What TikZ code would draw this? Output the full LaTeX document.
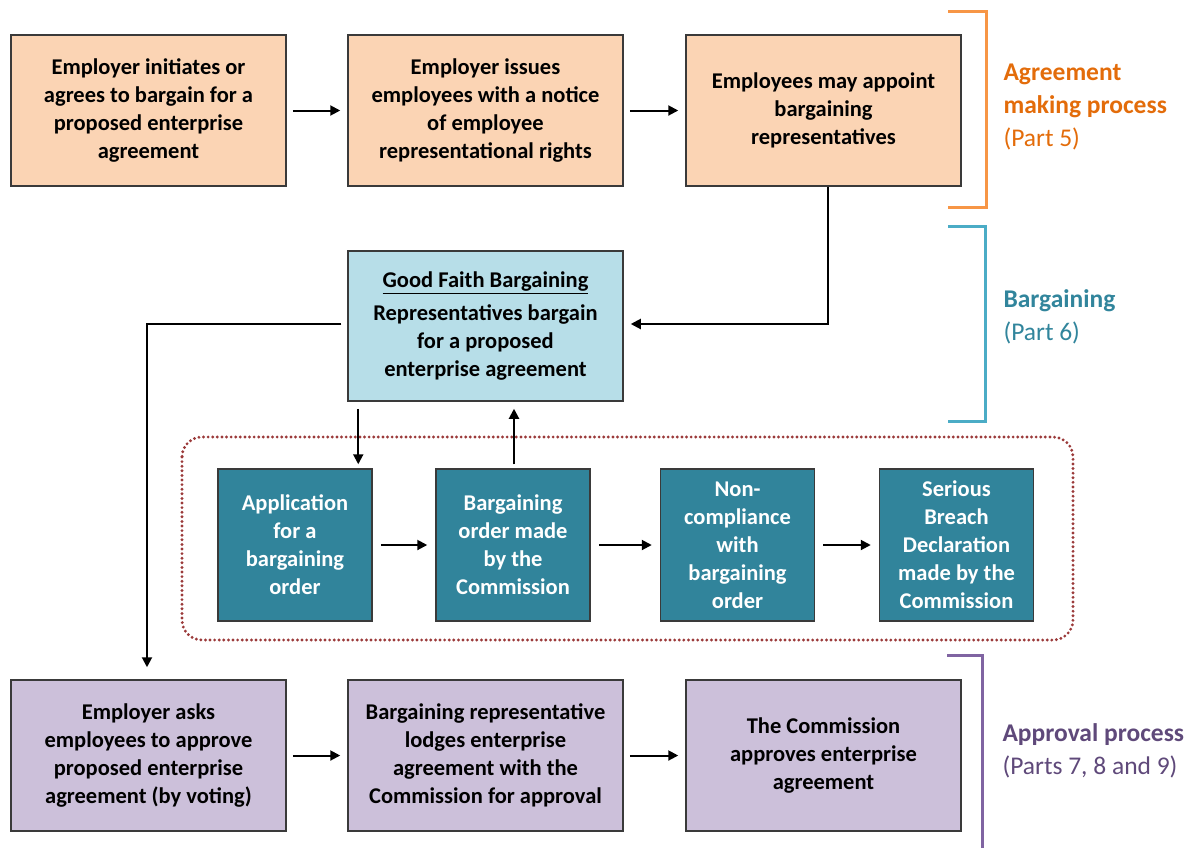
\documentclass[tikz,border=0pt]{standalone}
\usepackage{fontspec}
\setmainfont{Carlito}
\usetikzlibrary{arrows.meta}
\definecolor{peach}{HTML}{FBD4B4}
\definecolor{paleblue}{HTML}{B7DEE8}
\definecolor{teal}{HTML}{31849B}
\definecolor{lilac}{HTML}{CCC0DA}
\definecolor{brorange}{HTML}{F79646}
\definecolor{brblue}{HTML}{4BACC6}
\definecolor{brpurple}{HTML}{8064A2}
\definecolor{txorange}{HTML}{E36C0A}
\definecolor{txblue}{HTML}{31859C}
\definecolor{txpurple}{HTML}{5F497A}
\definecolor{dotred}{HTML}{9B3A3A}
\definecolor{edge}{HTML}{3A3A3A}
\begin{document}
\begin{tikzpicture}[x=1pt,y=-1pt,
  box/.style={draw=edge,line width=1.5,minimum width=275,minimum height=151,
    align=center,inner sep=0pt,font=\bfseries\fontsize{22.5}{28}\selectfont},
  peachbox/.style={box,fill=peach},
  bluebox/.style={box,fill=paleblue,minimum height=150},
  lilacbox/.style={box,fill=lilac},
  tealbox/.style={box,fill=teal,text=white,minimum width=154,minimum height=152},
  flow/.style={line width=2,-{Triangle[length=10,width=10]}},
  bracket/.style={line width=3},
  tag/.style={anchor=west,align=left,font=\fontsize{25.5}{33}\selectfont}]
\useasboundingbox (0,0) rectangle (1199,847);

% agreement making row
\node[peachbox] (a1) at (148.5,110.5) {Employer initiates or\\agrees to bargain for a\\proposed enterprise\\agreement};
\node[peachbox] (a2) at (485.5,110.5) {Employer issues\\employees with a notice\\of employee\\representational rights};
\node[peachbox] (a3) at (823.5,110.5) {Employees may appoint\\bargaining\\representatives};

% good faith bargaining
\node[bluebox] (gf) at (485.5,326) {\underline{Good Faith Bargaining}\\[5pt]Representatives bargain\\for a proposed\\enterprise agreement};

% bargaining order chain
\draw[dotred,line width=3.2,line cap=round,dash pattern=on 0pt off 4.6pt,rounded corners=20]
  (182,437) rectangle (1073,640);
\node[tealbox] (t1) at (295,545) {Application\\for a\\bargaining\\order};
\node[tealbox] (t2) at (513,545) {Bargaining\\order made\\by the\\Commission};
\node[tealbox] (t3) at (737.5,545) {Non-\\compliance\\with\\bargaining\\order};
\node[tealbox] (t4) at (956.5,545) {Serious\\Breach\\Declaration\\made by the\\Commission};

% approval row
\node[lilacbox] (p1) at (148.5,755.5) {Employer asks\\employees to approve\\proposed enterprise\\agreement (by voting)};
\node[lilacbox] (p2) at (485.5,755.5) {Bargaining representative\\lodges enterprise\\agreement with the\\Commission for approval};
\node[lilacbox] (p3) at (823.5,755.5) {The Commission\\approves enterprise\\agreement};

% connectors
\draw[flow,shorten <=6,shorten >=7] (a1) -- (a2);
\draw[flow,shorten <=6,shorten >=7] (a2) -- (a3);
\draw[flow,shorten >=7] ([xshift=4]a3.south) |- ([yshift=2]gf.east);
\draw[flow,shorten <=6,shorten >=12] ([yshift=2]gf.west) -| ([xshift=-1.5]p1.north);
\draw[flow,shorten <=7,shorten >=4] ([xshift=11]gf.south west) -- ([xshift=11]gf.south west |- t1.north);
\draw[flow,shorten <=4,shorten >=7] ([xshift=1]t2.north) -- ([xshift=1]t2.north |- gf.south);
\draw[flow,shorten <=8,shorten >=8] (t1) -- (t2);
\draw[flow,shorten <=8,shorten >=8] (t2) -- (t3);
\draw[flow,shorten <=8,shorten >=8] (t3) -- (t4);
\draw[flow,shorten <=6,shorten >=7] (p1) -- (p2);
\draw[flow,shorten <=6,shorten >=7] (p2) -- (p3);

% stage brackets and their labels
\draw[bracket,brorange] (948,11) -- (986,11) -- (986,207) -- (948,207);
\node[tag,text=txorange] (lab1) at (1000,107) {\textbf{Agreement}\\\textbf{making process}\\(Part 5)};
\draw[bracket,brblue] (948,226) -- (985,226) -- (985,421) -- (948,421);
\node[tag,text=txblue] (lab2) at (1000,317) {\textbf{Bargaining}\\(Part 6)};
\draw[bracket,brpurple] (947,655) -- (982,655) -- (982,850);
\node[tag,text=txpurple] (lab3) at (999,751) {\textbf{Approval process}\\(Parts 7, 8 and 9)};
\end{tikzpicture}
\end{document}
